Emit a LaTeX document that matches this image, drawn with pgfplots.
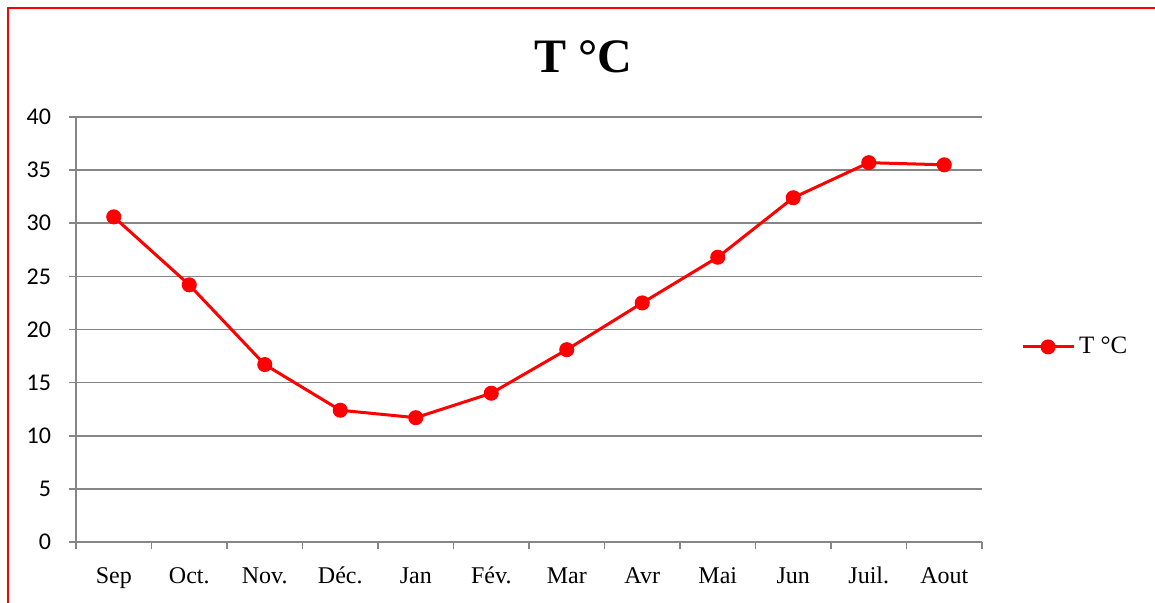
\documentclass[border=0pt]{standalone}
\usepackage{fontspec}
\setmainfont{Liberation Serif}
\newfontfamily\carlito{Carlito}
\usepackage{pgfplots}
\pgfplotsset{compat=1.18}

\definecolor{gridgray}{RGB}{134,134,134}
\definecolor{tred}{RGB}{255,0,0}

\begin{document}
\begin{tikzpicture}
\useasboundingbox (-38pt,-30.5pt) rectangle (539.5pt,271pt);
\begin{axis}[
  at={(0,0)}, anchor=south west,
  scale only axis, width=453pt, height=212.5pt,
  xmin=-0.5, xmax=11.5, ymin=0, ymax=40,
  axis x line*=bottom, axis y line*=left,
  axis line style={gridgray, line width=0.8pt},
  xtick={0,...,11},
  xticklabels={Sep,Oct.,Nov.,Déc.,Jan,Fév.,Mar,Avr,Mai,Jun,Juil.,Aout},
  major x tick style={draw=none},
  minor xtick={-0.5,0.5,...,11.5},
  minor x tick style={gridgray, line width=0.8pt},
  ytick={0,5,...,40},
  y tick style={gridgray, line width=0.8pt},
  tick align=outside,
  major tick length=3.5pt, minor tick length=3.5pt,
  ymajorgrids, grid style={gridgray, line width=0.8pt},
  xticklabel style={font=\fontsize{12}{14}\selectfont, yshift=-5pt,
    text height=8.5pt, text depth=2.6pt},
  yticklabel style={font=\carlito\fontsize{12}{14}\selectfont, xshift=-5.5pt},
  /pgf/number format/assume math mode=true,
  legend style={at={(1.036,0.459)}, anchor=west, draw=none, fill=none,
    font=\fontsize{12.5}{14}\selectfont},
  legend cell align=left,
  legend image code/.code={\draw[#1,mark repeat=2,mark phase=2]
    plot coordinates {(0cm,0cm) (0.45cm,0cm) (0.9cm,0cm)};},
]
\addplot[tred, line width=1.5pt, mark=*, mark size=3pt,
  mark options={solid, fill=tred}] coordinates {
  (0,30.6) (1,24.2) (2,16.7) (3,12.4) (4,11.7) (5,14.0)
  (6,18.1) (7,22.5) (8,26.8) (9,32.4) (10,35.7) (11,35.5)};
\addlegendentry{T °C}
\end{axis}
\node[font=\bfseries\fontsize{24}{28}\selectfont] at (253.5pt,242.5pt) {T °C};
\draw[tred, line width=1pt] (-34pt,-31pt) -- (-34pt,267pt) -- (540pt,267pt);
\end{tikzpicture}
\end{document}
